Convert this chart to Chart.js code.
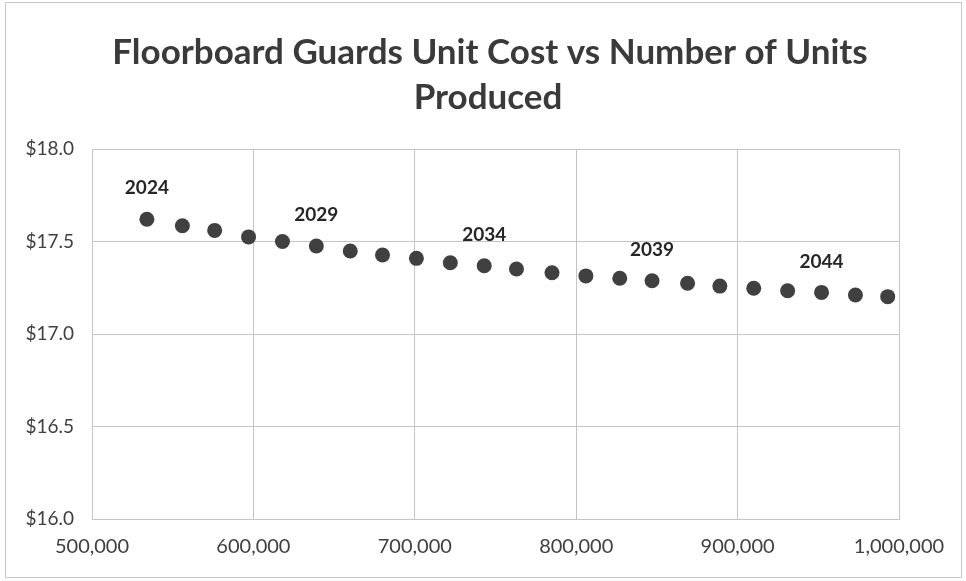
<!DOCTYPE html>
<html>
<head>
<meta charset="utf-8">
<script src="https://cdn.jsdelivr.net/npm/chart.js@4.4.0/dist/chart.umd.min.js"></script>
<style>
    body { margin: 0; background: #fff; }
    #wrap { width: 966px; height: 581px; position: relative; }
</style>
</head>
<body>
<div id="wrap"><canvas id="costChart" width="966" height="581"></canvas></div>
<script>
// Data
const years = [2024, 2025, 2026, 2027, 2028, 2029, 2030, 2031, 2032, 2033, 2034, 2035,
               2036, 2037, 2038, 2039, 2040, 2041, 2042, 2043, 2044, 2045, 2046];
const unitsProduced = [534000, 556000, 576000, 597000, 618000, 639000, 660000, 680000, 701000, 722000, 743000, 763000,
                       785000, 806000, 827000, 847000, 869000, 889000, 910000, 931000, 952000, 973000, 993000];
const unitCost = [17.62, 17.585, 17.56, 17.525, 17.50, 17.476, 17.449, 17.427, 17.409, 17.385, 17.369, 17.351,
                  17.331, 17.314, 17.301, 17.288, 17.274, 17.259, 17.247, 17.234, 17.225, 17.211, 17.202];
const labelledYears = [2024, 2029, 2034, 2039, 2044];
const titleLines = ['Floorboard Guards Unit Cost vs Number of Units', 'Produced'];

const points = unitsProduced.map((u, i) => ({ x: u, y: unitCost[i] }));

// Frame round the whole chart and the title, centred on the canvas
const framePlugin = {
    id: 'frame',
    beforeDraw(chart) {
        const ctx = chart.ctx;
        ctx.save();
        ctx.fillStyle = '#fff';
        ctx.fillRect(0, 0, chart.width, chart.height);
        ctx.strokeStyle = '#c8c8c8';
        ctx.lineWidth = 1;
        ctx.strokeRect(5.5, 2.5, 956, 575);

        ctx.font = 'bold 35px Lato, "Open Sans", sans-serif';
        ctx.fillStyle = '#3a3a3a';
        ctx.textAlign = 'center';
        ctx.textBaseline = 'middle';
        ctx.fillText(titleLines[0], 490, 53);
        ctx.fillText(titleLines[1], 488, 98);
        ctx.restore();
    }
};

// Year labels above some points
const yearLabelPlugin = {
    id: 'yearLabels',
    afterDatasetsDraw(chart) {
        const ctx = chart.ctx;
        const meta = chart.getDatasetMeta(0);
        ctx.save();
        ctx.font = 'bold 19px Lato, "Open Sans", sans-serif';
        ctx.fillStyle = '#262626';
        ctx.textAlign = 'center';
        ctx.textBaseline = 'middle';
        years.forEach((yr, i) => {
            if (!labelledYears.includes(yr)) return;
            const el = meta.data[i];
            ctx.fillText(String(yr), el.x, el.y - 31);
        });
        ctx.restore();
    }
};

const ctx = document.getElementById('costChart').getContext('2d');
new Chart(ctx, {
    type: 'scatter',
    data: {
        datasets: [{
            label: 'Unit Cost',
            data: points,
            backgroundColor: '#404040',
            borderColor: '#404040',
            pointRadius: 7.5,
            pointHoverRadius: 7.5,
            borderWidth: 0
        }]
    },
    options: {
        responsive: false,
        animation: false,
        layout: { padding: { left: 0, right: 67, top: 149, bottom: 0 } },
        plugins: {
            legend: { display: false },
            tooltip: { enabled: false },
            title: { display: false }
        },
        scales: {
            x: {
                type: 'linear',
                min: 500000,
                max: 1000000,
                ticks: {
                    stepSize: 100000,
                    color: '#404040',
                    font: { family: 'Lato, "Open Sans", sans-serif', size: 20 },
                    padding: 16,
                    callback: v => v.toLocaleString('en-US')
                },
                grid: { color: '#c4c4c4', lineWidth: 1, drawTicks: false },
                border: { color: '#c4c4c4' },
                afterFit(scale) { scale.height = 62; }
            },
            y: {
                min: 16,
                max: 18,
                ticks: {
                    stepSize: 0.5,
                    color: '#404040',
                    font: { family: 'Lato, "Open Sans", sans-serif', size: 19 },
                    padding: 18,
                    callback: v => '$' + v.toFixed(1)
                },
                grid: { color: '#c4c4c4', lineWidth: 1, drawTicks: false },
                border: { color: '#c4c4c4' },
                afterFit(scale) { scale.width = 92; }
            }
        }
    },
    plugins: [framePlugin, yearLabelPlugin]
});
</script>
</body>
</html>
